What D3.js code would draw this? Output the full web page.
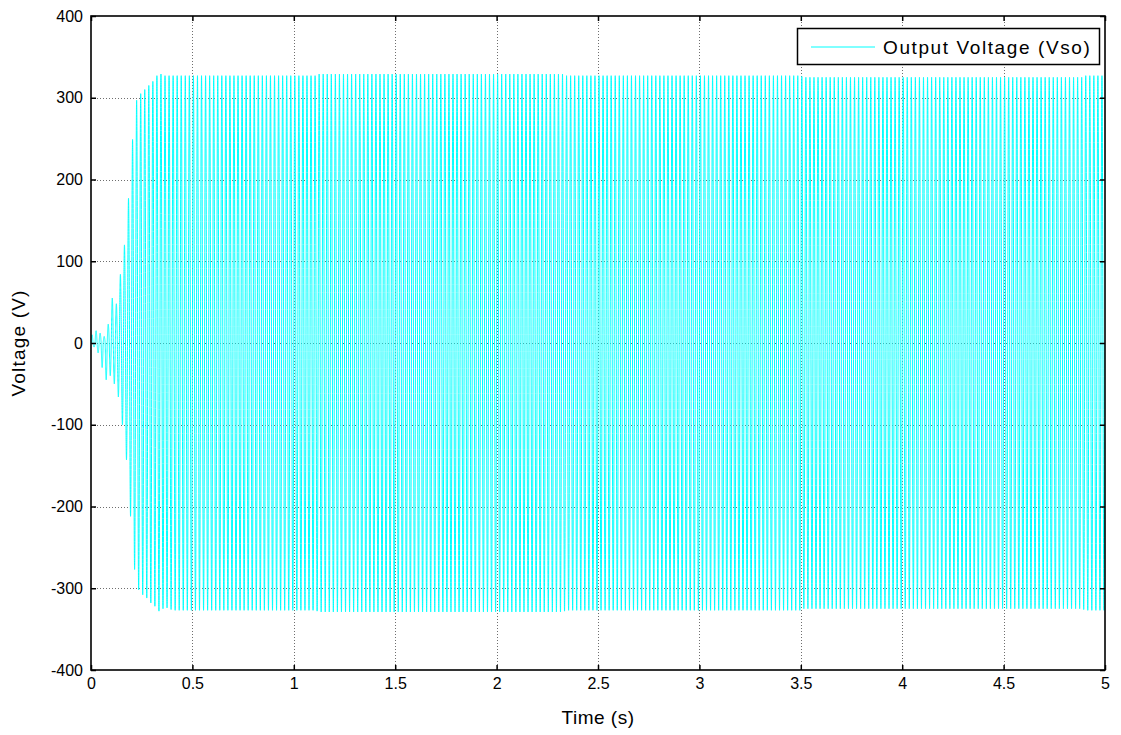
<!DOCTYPE html>
<html>
<head>
<meta charset="utf-8">
<script src="https://cdn.jsdelivr.net/npm/d3@7/dist/d3.min.js"></script>
<style>
  body { margin: 0; background: #fff; }
  svg text { font-family: Arial, "Liberation Sans", Helvetica, sans-serif; fill: #000; }
</style>
</head>
<body>
<svg id="chart" width="1121" height="735"></svg>
<script>
// ---- data -------------------------------------------------------------
const xTicks = [0, 0.5, 1, 1.5, 2, 2.5, 3, 3.5, 4, 4.5, 5];
const xTickLabels = ["0", "0.5", "1", "1.5", "2", "2.5", "3", "3.5", "4", "4.5", "5"];
const yTicks = [-400, -300, -200, -100, 0, 100, 200, 300, 400];
const yTickLabels = ["-400", "-300", "-200", "-100", "0", "100", "200", "300", "400"];

const seriesName = "Output Voltage (Vso)";
const xTitle = "Time (s)";
const yTitle = "Voltage (V)";
const lineFreqHz = 50;          // output frequency of the inverter
const timeEnd = 5;

// start-up: positive and negative peak of each 50 Hz cycle (first 20 cycles)
const startPeaksPos = [10, 15, 12, 8, 23, 55, 48, 84, 120, 177, 249, 297, 305, 310, 315, 320, 327, 329, 327, 327];
const startPeaksNeg = [-5, -12, -30, -45, -40, -50, -66, -100, -143, -212, -277, -302, -308, -312, -318, -322, -328, -325, -324, -326];

// steady state: peak levels over time (s)
const steadyTime = [0.4, 1.11, 1.12, 2.33, 2.34, 3.50, 3.51, 4.89, 4.90, 5.0];
const steadyPos  = [327, 327, 329, 329, 327, 327, 325, 325, 327, 327];
const steadyNeg  = [-327, -327, -329, -329, -327, -327, -325, -325, -327, -327];

// ---- layout -----------------------------------------------------------
const m = { left: 91, right: 1105, top: 16, bottom: 670 };

const svg = d3.select("#chart");
const x = d3.scaleLinear().domain([0, 5]).range([m.left, m.right]);
const y = d3.scaleLinear().domain([-400, 400]).range([m.bottom, m.top]);

// ---- waveform samples ---------------------------------------------------
const period = 1 / lineFreqHz;
const posEnv = d3.scaleLinear().domain(steadyTime).range(steadyPos).clamp(true);
const negEnv = d3.scaleLinear().domain(steadyTime).range(steadyNeg).clamp(true);

function peakFor(t, positive) {
  const k = Math.floor(t / period);
  if (k < startPeaksPos.length) return positive ? startPeaksPos[k] : startPeaksNeg[k];
  return positive ? posEnv(t) : negEnv(t);
}

const dt = 1e-4;
const wave = [];
for (let i = 0; i <= Math.round(timeEnd / dt); i++) {
  const t = i * dt;
  const s = Math.sin(2 * Math.PI * lineFreqHz * t);
  const amp = s >= 0 ? peakFor(t, true) : -peakFor(t, false);
  wave.push([t, amp * s]);
}

// ---- grid -------------------------------------------------------------
const grid = svg.append("g").attr("class", "grid")
  .attr("stroke", "#6e6e6e").attr("stroke-width", 1).attr("stroke-dasharray", "1,2");
grid.selectAll("line.v").data(xTicks.slice(1, -1)).join("line").attr("class", "v")
  .attr("x1", d => Math.round(x(d)) + 0.5).attr("x2", d => Math.round(x(d)) + 0.5)
  .attr("y1", m.top).attr("y2", m.bottom);
grid.selectAll("line.h").data(yTicks.slice(1, -1)).join("line").attr("class", "h")
  .attr("y1", d => Math.round(y(d)) + 0.5).attr("y2", d => Math.round(y(d)) + 0.5)
  .attr("x1", m.left).attr("x2", m.right);

// ---- signal -----------------------------------------------------------
svg.append("clipPath").attr("id", "plotClip").append("rect")
  .attr("x", m.left).attr("y", m.top).attr("width", m.right - m.left).attr("height", m.bottom - m.top);

const line = d3.line().x(d => x(d[0])).y(d => y(d[1]));
svg.append("path").datum(wave)
  .attr("clip-path", "url(#plotClip)")
  .attr("fill", "none").attr("stroke", "#00ffff").attr("stroke-width", 1)
  .attr("d", line);

// ---- axes (ticks point inward on all four sides) -------------------------
const tickFont = 16;
const titleFont = 19;
const xFmt = d => xTickLabels[xTicks.indexOf(d)];
const yFmt = d => yTickLabels[yTicks.indexOf(d)];

const axB = svg.append("g").attr("transform", `translate(0,${m.bottom})`)
  .call(d3.axisBottom(x).tickValues(xTicks).tickFormat(xFmt).tickSizeInner(-5).tickSizeOuter(0).tickPadding(8));
const axL = svg.append("g").attr("transform", `translate(${m.left},0)`)
  .call(d3.axisLeft(y).tickValues(yTicks).tickFormat(yFmt).tickSizeInner(-5).tickSizeOuter(0).tickPadding(8));
const axT = svg.append("g").attr("transform", `translate(0,${m.top})`)
  .call(d3.axisTop(x).tickValues(xTicks).tickFormat("").tickSizeInner(-5).tickSizeOuter(0));
const axR = svg.append("g").attr("transform", `translate(${m.right},0)`)
  .call(d3.axisRight(y).tickValues(yTicks).tickFormat("").tickSizeInner(-5).tickSizeOuter(0));

[axB, axL, axT, axR].forEach(g => {
  g.select(".domain").remove();
  g.selectAll(".tick line").attr("stroke", "#000").attr("stroke-width", 1.5);
  g.selectAll("text").attr("font-size", tickFont).attr("font-family", "Arial, 'Liberation Sans', sans-serif").attr("fill", "#000");
});

svg.append("rect")
  .attr("x", m.left).attr("y", m.top).attr("width", m.right - m.left).attr("height", m.bottom - m.top)
  .attr("fill", "none").attr("stroke", "#000").attr("stroke-width", 1.6);

// ---- axis titles ------------------------------------------------------
svg.append("text").attr("x", (m.left + m.right) / 2).attr("y", 724)
  .attr("text-anchor", "middle").attr("font-size", titleFont).attr("letter-spacing", 0.5).text(xTitle);
svg.append("text").attr("transform", `translate(25,${(m.top + m.bottom) / 2}) rotate(-90)`)
  .attr("text-anchor", "middle").attr("font-size", titleFont).attr("letter-spacing", 1.2).text(yTitle);

// ---- legend -----------------------------------------------------------
const lg = svg.append("g").attr("class", "legend");
lg.append("rect").attr("x", 797.5).attr("y", 28.5).attr("width", 302).attr("height", 36)
  .attr("fill", "#fff").attr("stroke", "#000").attr("stroke-width", 1.5);
lg.append("line").attr("x1", 811).attr("x2", 875).attr("y1", 47).attr("y2", 47)
  .attr("stroke", "#00ffff").attr("stroke-width", 1);
lg.append("text").attr("x", 883).attr("y", 54).attr("font-size", titleFont).attr("letter-spacing", 1.6).text(seriesName);
</script>
</body>
</html>
